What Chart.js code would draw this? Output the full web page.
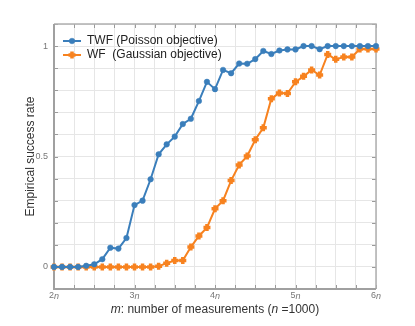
<!DOCTYPE html>
<html>
<head>
<meta charset="utf-8">
<script src="https://cdn.jsdelivr.net/npm/chart.js@4"></script>
<style>
  html, body { margin: 0; background: #fff; }
  #wrap { width: 415px; height: 326px; }
</style>
</head>
<body>
<div id="wrap"><canvas id="chart" width="415" height="326"></canvas></div>
<script>
// ── Data ─────────────────────────────────────────────────────────────────────

// m / n (Anzahl Messungen in Vielfachen von n)
const mValues = [2.0, 2.1, 2.2, 2.3, 2.4, 2.5, 2.6, 2.7, 2.8, 2.9,
                 3.0, 3.1, 3.2, 3.3, 3.4, 3.5, 3.6, 3.7, 3.8, 3.9,
                 4.0, 4.1, 4.2, 4.3, 4.4, 4.5, 4.6, 4.7, 4.8, 4.9,
                 5.0, 5.1, 5.2, 5.3, 5.4, 5.5, 5.6, 5.7, 5.8, 5.9, 6.0];

const twfRate = [0, 0, 0, 0, 0.005, 0.012, 0.035, 0.087, 0.083, 0.131,
                 0.28, 0.30, 0.397, 0.51, 0.555, 0.59, 0.647, 0.671, 0.751, 0.838,
                 0.805, 0.892, 0.877, 0.921, 0.92, 0.941, 0.978, 0.964, 0.98, 0.985,
                 0.985, 1.0, 1.0, 0.986, 1.0, 1.0, 1.0, 1.0, 1.0, 1.0, 1.0];

const wfRate = [0, 0, 0, 0, 0, 0, 0, 0, 0, 0,
                0, 0, 0, 0.003, 0.017, 0.029, 0.029, 0.09, 0.14, 0.178,
                0.263, 0.30, 0.391, 0.462, 0.502, 0.576, 0.63, 0.762, 0.788, 0.785,
                0.838, 0.863, 0.892, 0.869, 0.962, 0.94, 0.951, 0.951, 0.987, 0.987, 0.987];

const seriesNames = ['TWF (Poisson objective)', 'WF  (Gaussian objective)'];
const xTickLabels = [2, 3, 4, 5, 6];     // ganze Vielfache von n
const yTickLabels = [0, 0.5, 1];

// ── Styles ───────────────────────────────────────────────────────────────────

const BLUE = '#3a7ebb';
const ORANGE = '#f7821f';
const FONT = '"Liberation Sans", Arial, Helvetica, sans-serif';

function toPoints(ys) {
  return mValues.map((m, i) => ({ x: m, y: ys[i] }));
}

// Text mit gemischten Stilen (normal/kursiv) zentriert zeichnen
function drawMixed(ctx, parts, cx, cy, size, color) {
  let total = 0;
  parts.forEach(p => {
    ctx.font = `${p.it ? 'italic ' : ''}${size}px ${FONT}`;
    p.w = ctx.measureText(p.t).width;
    total += p.w;
  });
  let x = cx - total / 2;
  ctx.fillStyle = color;
  ctx.textBaseline = 'middle';
  ctx.textAlign = 'left';
  parts.forEach(p => {
    ctx.font = `${p.it ? 'italic ' : ''}${size}px ${FONT}`;
    ctx.fillText(p.t, x, cy);
    x += p.w;
  });
}

// ── Plugin: Rahmen, Ticks nach innen, Achsentitel, Legende ────────────────────

const framePlugin = {
  id: 'frame',
  beforeDatasetsDraw(chart) {
    const { ctx, chartArea: a, scales } = chart;
    ctx.save();
    // Tick-Striche nach innen
    ctx.strokeStyle = '#9a9a9a';
    ctx.lineWidth = 1;
    const tl = 4;
    scales.x.ticks.forEach(t => {
      const px = Math.round(scales.x.getPixelForValue(t.value)) + 0.5;
      ctx.beginPath();
      ctx.moveTo(px, a.bottom); ctx.lineTo(px, a.bottom - tl);
      ctx.moveTo(px, a.top); ctx.lineTo(px, a.top + tl);
      ctx.stroke();
    });
    scales.y.ticks.forEach(t => {
      const py = Math.round(scales.y.getPixelForValue(t.value)) + 0.5;
      ctx.beginPath();
      ctx.moveTo(a.left, py); ctx.lineTo(a.left + tl, py);
      ctx.moveTo(a.right, py); ctx.lineTo(a.right - tl, py);
      ctx.stroke();
    });
    // Rahmen
    ctx.strokeStyle = '#b0b0b0';
    ctx.lineWidth = 1.5;
    ctx.beginPath();
    ctx.moveTo(a.left, a.top); ctx.lineTo(a.right, a.top); ctx.lineTo(a.right, a.bottom);
    ctx.stroke();
    ctx.strokeStyle = '#a0a0a0';
    ctx.lineWidth = 2;
    ctx.beginPath();
    ctx.moveTo(a.left, a.top); ctx.lineTo(a.left, a.bottom); ctx.lineTo(a.right, a.bottom);
    ctx.stroke();
    ctx.restore();
  },
  afterDraw(chart) {
    const { ctx, chartArea: a, scales } = chart;
    ctx.save();
    // x-Tick-Labels "2n" ... "6n"
    xTickLabels.forEach(v => {
      drawMixed(ctx, [{ t: String(v) }, { t: 'n', it: true }],
        scales.x.getPixelForValue(v), a.bottom + 7, 9, '#777');
    });
    // x-Achsentitel
    drawMixed(ctx, [
      { t: 'm', it: true }, { t: ': number of measurements (' },
      { t: 'n', it: true }, { t: ' =1000)' }
    ], (a.left + a.right) / 2, a.bottom + 21, 12, '#333');
    // y-Achsentitel
    ctx.save();
    ctx.translate(31, (a.top + a.bottom) / 2);
    ctx.rotate(-Math.PI / 2);
    drawMixed(ctx, [{ t: 'Empirical success rate' }], 0, 0, 12, '#333');
    ctx.restore();
    // Legende oben links im Plot
    chart.data.datasets.forEach((ds, i) => {
      const y = a.top + 17 + i * 14;
      const x0 = a.left + 9, x1 = a.left + 27;
      ctx.strokeStyle = ds.borderColor;
      ctx.fillStyle = ds.pointBackgroundColor;
      ctx.lineWidth = 2;
      ctx.beginPath(); ctx.moveTo(x0, y); ctx.lineTo(x1, y); ctx.stroke();
      ctx.lineWidth = ds.pointBorderWidth;
      Chart.helpers.drawPoint(ctx, {
        pointStyle: ds.pointStyle, radius: ds.pointRadius, borderWidth: ds.pointBorderWidth, rotation: 0
      }, (x0 + x1) / 2, y);
      ctx.fillStyle = '#222';
      ctx.font = `12px ${FONT}`;
      ctx.textAlign = 'left';
      ctx.textBaseline = 'middle';
      ctx.fillText(ds.label, x1 + 6, y);
    });
    ctx.restore();
  }
};

// ── Chart ────────────────────────────────────────────────────────────────────

new Chart(document.getElementById('chart'), {
  type: 'line',
  data: {
    datasets: [{
      label: seriesNames[0],
      data: toPoints(twfRate),
      borderColor: BLUE,
      backgroundColor: BLUE,
      borderWidth: 2,
      pointStyle: 'circle',
      pointRadius: 2.8,
      pointBorderWidth: 0.5,
      pointBorderColor: BLUE,
      pointBackgroundColor: BLUE,
      tension: 0,
      clip: false
    }, {
      label: seriesNames[1],
      data: toPoints(wfRate),
      borderColor: ORANGE,
      backgroundColor: ORANGE,
      borderWidth: 2,
      pointStyle: 'cross',
      pointRadius: 3.5,
      pointBorderWidth: 3.5,
      pointBorderColor: ORANGE,
      pointBackgroundColor: ORANGE,
      tension: 0,
      clip: false
    }]
  },
  options: {
    responsive: false,
    animation: false,
    devicePixelRatio: 1,
    layout: { padding: { left: 0, right: 39, top: 24, bottom: 0 } },
    plugins: { legend: { display: false }, tooltip: { enabled: false } },
    scales: {
      x: {
        type: 'linear', min: 2, max: 6,
        ticks: { stepSize: 0.25, display: false },
        grid: { color: '#e6e6e6', lineWidth: 1, drawTicks: false },
        border: { display: false },
        afterFit: s => { s.height = 37; }
      },
      y: {
        min: -0.1, max: 1.1,
        ticks: {
          stepSize: 0.1,
          padding: 6,
          color: '#777',
          font: { family: FONT, size: 9 },
          callback: v => {
            const r = Math.round(v * 10) / 10;
            return yTickLabels.includes(r) ? String(r) : '';
          }
        },
        grid: { color: '#e6e6e6', lineWidth: 1, drawTicks: false },
        border: { display: false },
        afterFit: s => { s.width = 54; }
      }
    }
  },
  plugins: [framePlugin]
});
</script>
</body>
</html>
